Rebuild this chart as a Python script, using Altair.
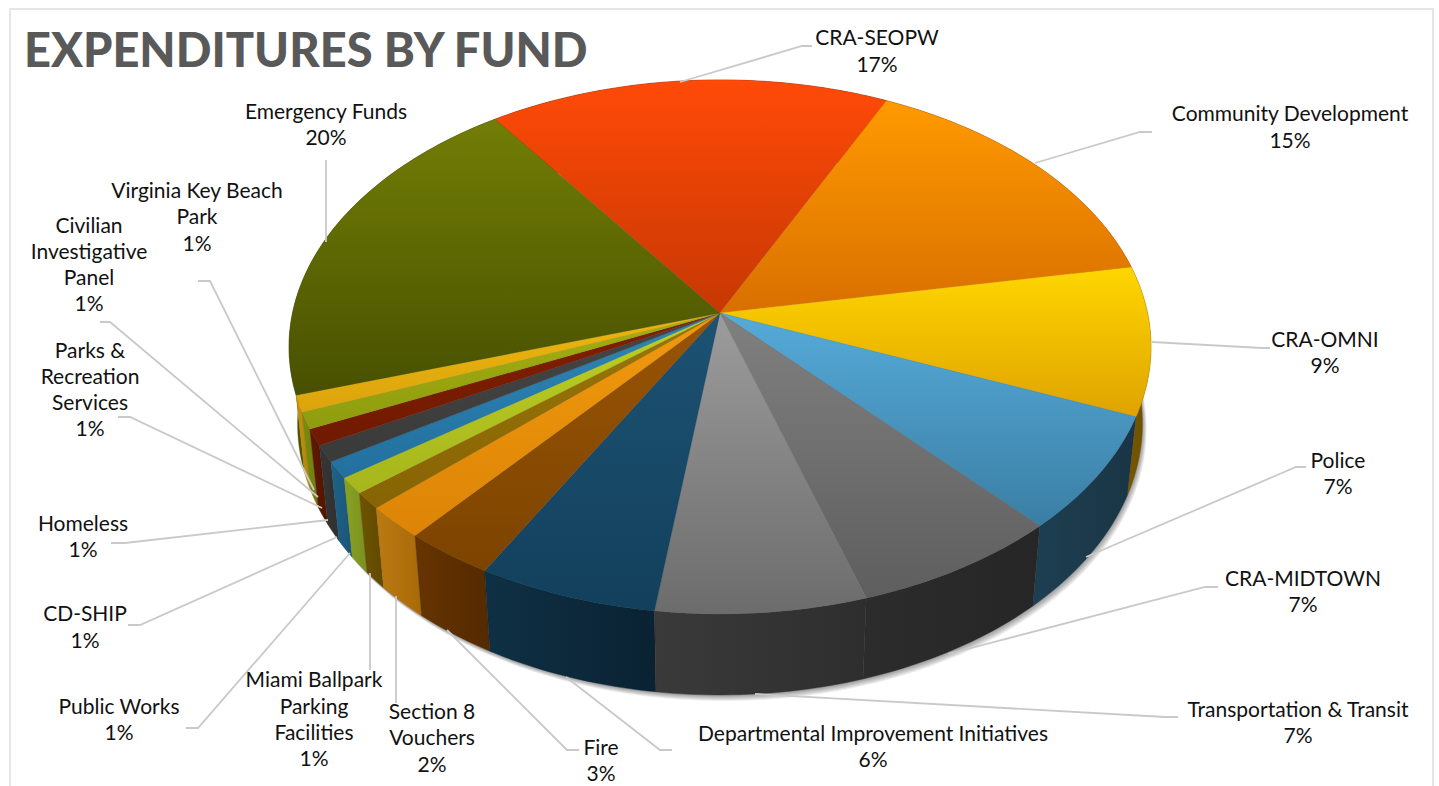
import math
import altair as alt
import pandas as pd

# Funds clockwise from the top of the pie, with their percentage share
funds = ["CRA-SEOPW", "Community Development", "CRA-OMNI", "Police", "CRA-MIDTOWN",
         "Transportation & Transit", "Departmental Improvement Initiatives", "Fire",
         "Section 8 Vouchers", "Miami Ballpark Parking Facilities", "Public Works",
         "CD-SHIP", "Homeless", "Parks & Recreation Services",
         "Civilian Investigative Panel", "Virginia Key Beach Park", "Emergency Funds"]
shares = [17, 15, 9, 7, 7, 7, 6, 3, 2, 1, 1, 1, 1, 1, 1, 1, 20]

# Face colours: lighter and darker end of the vertical gradient
face_top = ["#ff4a08", "#ff9a00", "#ffd600", "#56abd9", "#808080", "#9c9c9c", "#1d5273",
            "#9a5405", "#f09a0e", "#9a7608", "#bdd024", "#2e86b8", "#464646", "#821f00",
            "#a4b012", "#ecb60f", "#727e06"]
face_bottom = ["#c63804", "#d96f00", "#dfa300", "#3a7ea4", "#5e5e5e", "#6c6c6c", "#12405c",
               "#7c4400", "#dd8406", "#876404", "#a6b61c", "#22709e", "#3a3a3a", "#701a00",
               "#8f9c0e", "#dca40c", "#485000"]
# Side wall colours: left and right end of the horizontal gradient
wall_left = ["#8a2a02", "#8a4e00", "#7a5a00", "#1d3f52", "#2c2c2c", "#3a3a3a", "#0f3044",
             "#663400", "#bb7a12", "#6e5402", "#8aa222", "#1f6288", "#363636", "#5e1800",
             "#7d8c0c", "#c2920e", "#4c5400"]
wall_right = ["#8a2a02", "#7a4400", "#6a4e00", "#1a3545", "#262626", "#2e2e2e", "#0a2232",
              "#542a00", "#a86a08", "#604800", "#7a9020", "#1b5578", "#303030", "#541500",
              "#707e0a", "#b0840c", "#444c00"]

# Label layout: centre x, then the y of each text line, wrapped text, elbow and end of the leader
label_layout = [
    (877, [39, 66], ["CRA-SEOPW"], [(680, 82), (802, 46), (812, 46)]),
    (1290, [115, 142], ["Community Development"], [(1035, 163), (1140, 132), (1152, 132)]),
    (1325, [341, 367], ["CRA-OMNI"], [(1152, 342), (1262, 348), (1270, 348)]),
    (1338, [462, 488], ["Police"], [(1086, 557), (1296, 467), (1306, 467)]),
    (1303, [580, 606], ["CRA-MIDTOWN"], [(948, 654), (1205, 587), (1218, 587)]),
    (1298, [711, 737], ["Transportation & Transit"], [(755, 694), (1165, 717), (1178, 717)]),
    (873, [735, 761], ["Departmental Improvement Initiatives"], [(566, 677), (660, 750), (672, 750)]),
    (601, [749, 775], ["Fire"], [(447, 630), (567, 750), (579, 750)]),
    (432, [713, 739, 766], ["Section 8", "Vouchers"], [(396, 596), (396, 703)]),
    (314, [681, 708, 734, 760], ["Miami Ballpark", "Parking", "Facilities"], [(370, 573), (370, 670)]),
    (119, [708, 734], ["Public Works"], [(350, 553), (198, 728), (186, 728)]),
    (85, [615, 642], ["CD-SHIP"], [(337, 537), (140, 625), (128, 625)]),
    (83, [525, 551], ["Homeless"], [(328, 520), (125, 543), (111, 543)]),
    (90, [352, 378, 404, 430], ["Parks &", "Recreation", "Services"], [(322, 508), (130, 417), (118, 417)]),
    (89, [227, 253, 279, 305], ["Civilian", "Investigative", "Panel"], [(318, 497), (110, 322), (100, 322)]),
    (197, [192, 218, 245], ["Virginia Key Beach", "Park"], [(314, 490), (210, 281), (198, 281)]),
    (326, [113, 139], ["Emergency Funds"], [(326, 242), (326, 160)]),
]

# Perspective model of the pie: a disc tilted towards the viewer, with a thick rim
CENTER_X, CENTER_Y = 720, 313
RADIUS_X, RADIUS_Y = 427.5, 262.7
TILT, SINK, DROP = -0.127, 0.02, 78.4
FIRST_ANGLE = -35.5


def project(angle, depth=0.0, radius=1.0):
    u = radius * math.sin(math.radians(angle))
    v = -radius * math.cos(math.radians(angle))
    w = 1 + TILT * v + SINK * depth
    return (CENTER_X + RADIUS_X * u / w, CENTER_Y + (RADIUS_Y * v + DROP * depth) / w)


def arc_angles(a, b):
    steps = max(2, int(abs(b - a)))
    return [a + (b - a) * k / steps for k in range(steps + 1)]


def polygon_chart(points, fill, stroke, **mark_args):
    table = pd.DataFrame({"x": [p[0] for p in points], "y": [p[1] for p in points],
                          "i": list(range(len(points)))})
    return alt.Chart(table).mark_line(fill=fill, stroke=stroke, **mark_args).encode(
        x=x_enc, y=y_enc, order=alt.Order("i:Q"))


def gradient(start, end, vertical):
    return {"gradient": "linear", "x1": 0, "y1": 0, "x2": 0 if vertical else 1, "y2": 1 if vertical else 0,
            "stops": [{"offset": 0, "color": start}, {"offset": 1, "color": end}]}


x_enc = alt.X("x:Q", axis=None, scale=alt.Scale(domain=[0, 1439], nice=False, zero=False))
y_enc = alt.Y("y:Q", axis=None, scale=alt.Scale(domain=[786, 0], nice=False, zero=False))

bounds = []
angle = FIRST_ANGLE
for share in shares:
    bounds.append((angle, angle + share * 3.6))
    angle += share * 3.6

layers = []

# Frame around the chart
frame = pd.DataFrame({"x": [10, 10, 1433, 1433], "y": [790, 9, 9, 790], "i": [0, 1, 2, 3]})
layers.append(alt.Chart(frame).mark_line(stroke="#e6e6e6", strokeWidth=2).encode(
    x=x_enc, y=y_enc, order=alt.Order("i:Q")))

# Soft shadow under the rim
rim = [project(a, 1.0) for a in arc_angles(0, 360)]
for off in (6, 5, 4, 3, 2, 1):
    shifted = [(p[0] + off * 0.7, p[1] + off) for p in rim]
    layers.append(polygon_chart(shifted, "#000000", "#000000", opacity=0.07, strokeWidth=0))

# Side walls, back to front
order = sorted(range(len(shares)), key=lambda k: -math.cos(math.radians(sum(bounds[k]) / 2)))
for k in order:
    a, b = bounds[k]
    top_edge = [project(t, 0.0) for t in arc_angles(a, b)]
    low_edge = [project(t, 1.0) for t in arc_angles(b, a)]
    layers.append(polygon_chart(top_edge + low_edge, gradient(wall_left[k], wall_right[k], False),
                                wall_right[k], strokeWidth=0.4))

# Top faces
for k in range(len(shares)):
    a, b = bounds[k]
    outline = [project(0, 0.0, 0.0)] + [project(t, 0.0) for t in arc_angles(a, b)]
    layers.append(polygon_chart(outline, gradient(face_top[k], face_bottom[k], True),
                                face_bottom[k], strokeWidth=0.3))

# Leader lines
for _, _, _, path in label_layout:
    table = pd.DataFrame({"x": [p[0] for p in path], "y": [p[1] for p in path], "i": list(range(len(path)))})
    layers.append(alt.Chart(table).mark_line(stroke="#c9c9c9", strokeWidth=1.8).encode(
        x=x_enc, y=y_enc, order=alt.Order("i:Q")))

# Category labels, one row per text line, closing with the share
rows = []
for (cx, ys, lines, _), share in zip(label_layout, shares):
    for y, line in zip(ys, lines + [f"{share}%"]):
        rows.append({"x": cx, "y": y, "text": line})
layers.append(alt.Chart(pd.DataFrame(rows)).mark_text(
    font="Lato", fontSize=21, color="#111111", align="center", baseline="middle"
).encode(x=x_enc, y=y_enc, text="text:N"))

# Heading
heading = pd.DataFrame({"x": [24], "y": [53], "text": ["EXPENDITURES BY FUND"]})
layers.append(alt.Chart(heading).mark_text(
    font="Lato", fontSize=47, fontWeight=900, color="#595959", align="left", baseline="middle"
).encode(x=x_enc, y=y_enc, text="text:N"))

chart = alt.layer(*layers).properties(
    width=1439, height=786, background="white", padding=0,
    autosize=alt.AutoSizeParams(type="none")
).configure_view(stroke=None)

chart.save("out.html", embed_options={"renderer": "svg", "actions": False})
